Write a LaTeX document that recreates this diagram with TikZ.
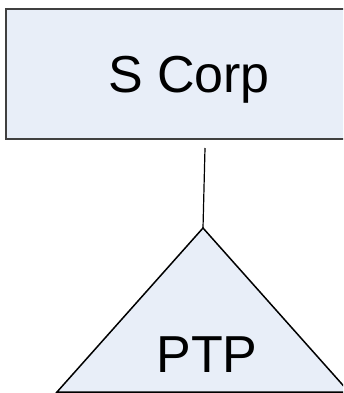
\documentclass[tikz,border=0pt]{standalone}
\usepackage{fontspec}
\setmainfont{Liberation Sans}
\definecolor{boxfill}{RGB}{232,238,248}
\definecolor{boxline}{RGB}{64,64,64}
\begin{document}
\begin{tikzpicture}[x=1pt,y=-1pt,
  shapeline/.style={line width=1.5pt,draw=black,fill=boxfill},
  lbl/.style={font=\fontsize{52}{52}\selectfont,inner sep=0pt,anchor=base}]
\useasboundingbox (0,0) rectangle (343,393);
\begin{scope}
\clip (0,0) rectangle (343,393);
\draw[line width=2pt,draw=boxline,fill=boxfill] (6,9) rectangle (378,139);
\coordinate (top) at (205,148);
\coordinate (apex) at (203,228);
\draw[shapeline] (apex) -- (57,392) -- (349,392) -- cycle;
\draw[line width=1.2pt] (top) -- (apex);
\node[lbl] (scorp) at (189,93) {S Corp};
\node[lbl] (ptp) at (207,372) {PTP};
\end{scope}
\end{tikzpicture}
\end{document}
